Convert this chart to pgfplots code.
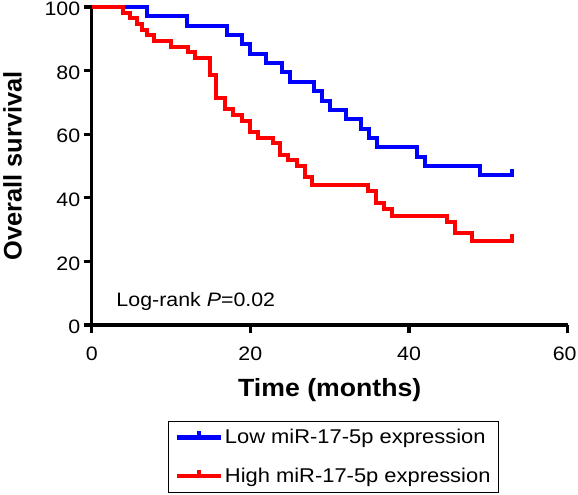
\documentclass[border=0pt]{standalone}
\usepackage{pgfplots}
\pgfplotsset{compat=1.18}
\usepackage{fontspec}
\setmainfont{Liberation Sans}[FakeStretch=1.1]
\newfontfamily\ylabfont{Liberation Sans}
\newfontfamily\xlabfont{Liberation Sans}[FakeStretch=1.07]
\definecolor{kmblue}{RGB}{0,0,255}
\definecolor{kmred}{RGB}{255,0,0}
\begin{document}
\begin{tikzpicture}
\begin{axis}[
  name=ax, at={(0,0)}, anchor=south west,
  scale only axis, width=476bp, height=318bp,
  xmin=0, xmax=60, ymin=0, ymax=100,
  enlargelimits=false, clip=false,
  axis x line=bottom, axis y line=left,
  axis line style={-, line width=3.2bp, black},
  xtick={0,20,40}, ytick={0,20,40,60,80,100},
  extra x ticks={60},
  extra x tick style={xticklabel style={xshift=-3bp}},
  tick align=outside, major tick length=8bp,
  every tick/.style={black, line width=3.2bp},
  /pgf/number format/assume math mode=true,
  ticklabel style={font=\fontsize{19.5}{23}\selectfont},
  xticklabel style={yshift=-10bp},
  yticklabel style={yshift=-2bp},
  xlabel={Time (months)}, ylabel={Overall survival},
  xlabel style={font=\xlabfont\bfseries\fontsize{25}{30}\selectfont, at={(axis description cs:0.5,-0.2255)}, anchor=base},
  ylabel style={font=\ylabfont\bfseries\fontsize{25.5}{30}\selectfont, at={(axis description cs:-0.1664,0.5)}, anchor=center},
  legend style={at={(axis description cs:0.8557,-0.302)}, anchor=north east,
    draw=black, line width=1bp, font=\fontsize{20}{24}\selectfont,
    cells={anchor=west}, row sep=19bp, inner xsep=6bp, inner ysep=6bp},
  legend image code/.code={
    \draw[#1, line width=4bp] (0bp,0bp) -- (44bp,0bp);
    \draw[#1, line width=4bp] (22bp,0bp) -- (22bp,6bp);
  },
]
\addplot[kmblue, line width=4bp, const plot] coordinates {
(0,100)(7,97.06)(12,94.12)(17,91.18)(19,88.24)(20,85.29)(22,82.35)(24,79.41)(25,76.47)(28,73.53)(29,70.59)(30,67.65)(32,64.71)(34,61.76)(35,58.82)(36,55.88)(41,52.94)(42,50.0)(49,47.06)(53,47.06)(53,49.2)
};
\addlegendentry{Low miR-17-5p expression}
\addplot[kmred, line width=4bp, const plot] coordinates {
(0,100)(4,98.2)(4.8,96.4)(5.7,94.6)(6.4,92.9)(7,91.1)(7.8,89.3)(10,87.5)(12.1,85.7)(13,83.9)(14.9,78.6)(15.7,71.4)(16.8,67.9)(17.8,66.1)(19,64.3)(19.9,60.7)(21,58.9)(22.9,57.1)(23.7,53.6)(24.8,51.8)(25.9,50.0)(26.9,46.4)(27.8,44.0)(34.8,42.1)(35.8,38.3)(36.9,36.4)(37.8,34.3)(44.8,32.3)(45.8,28.8)(47.9,26.5)(53,26.5)(53,28.6)
};
\addlegendentry{High miR-17-5p expression}
\node[anchor=base west, inner sep=0pt, font=\fontsize{19.5}{23}\selectfont] at (axis cs:3.1,5.75) {Log-rank \textit{P}=0.02};
\end{axis}
\pgfresetboundingbox
\path (-91.7bp,-170bp) rectangle (486.3bp,325bp);
\end{tikzpicture}
\end{document}
